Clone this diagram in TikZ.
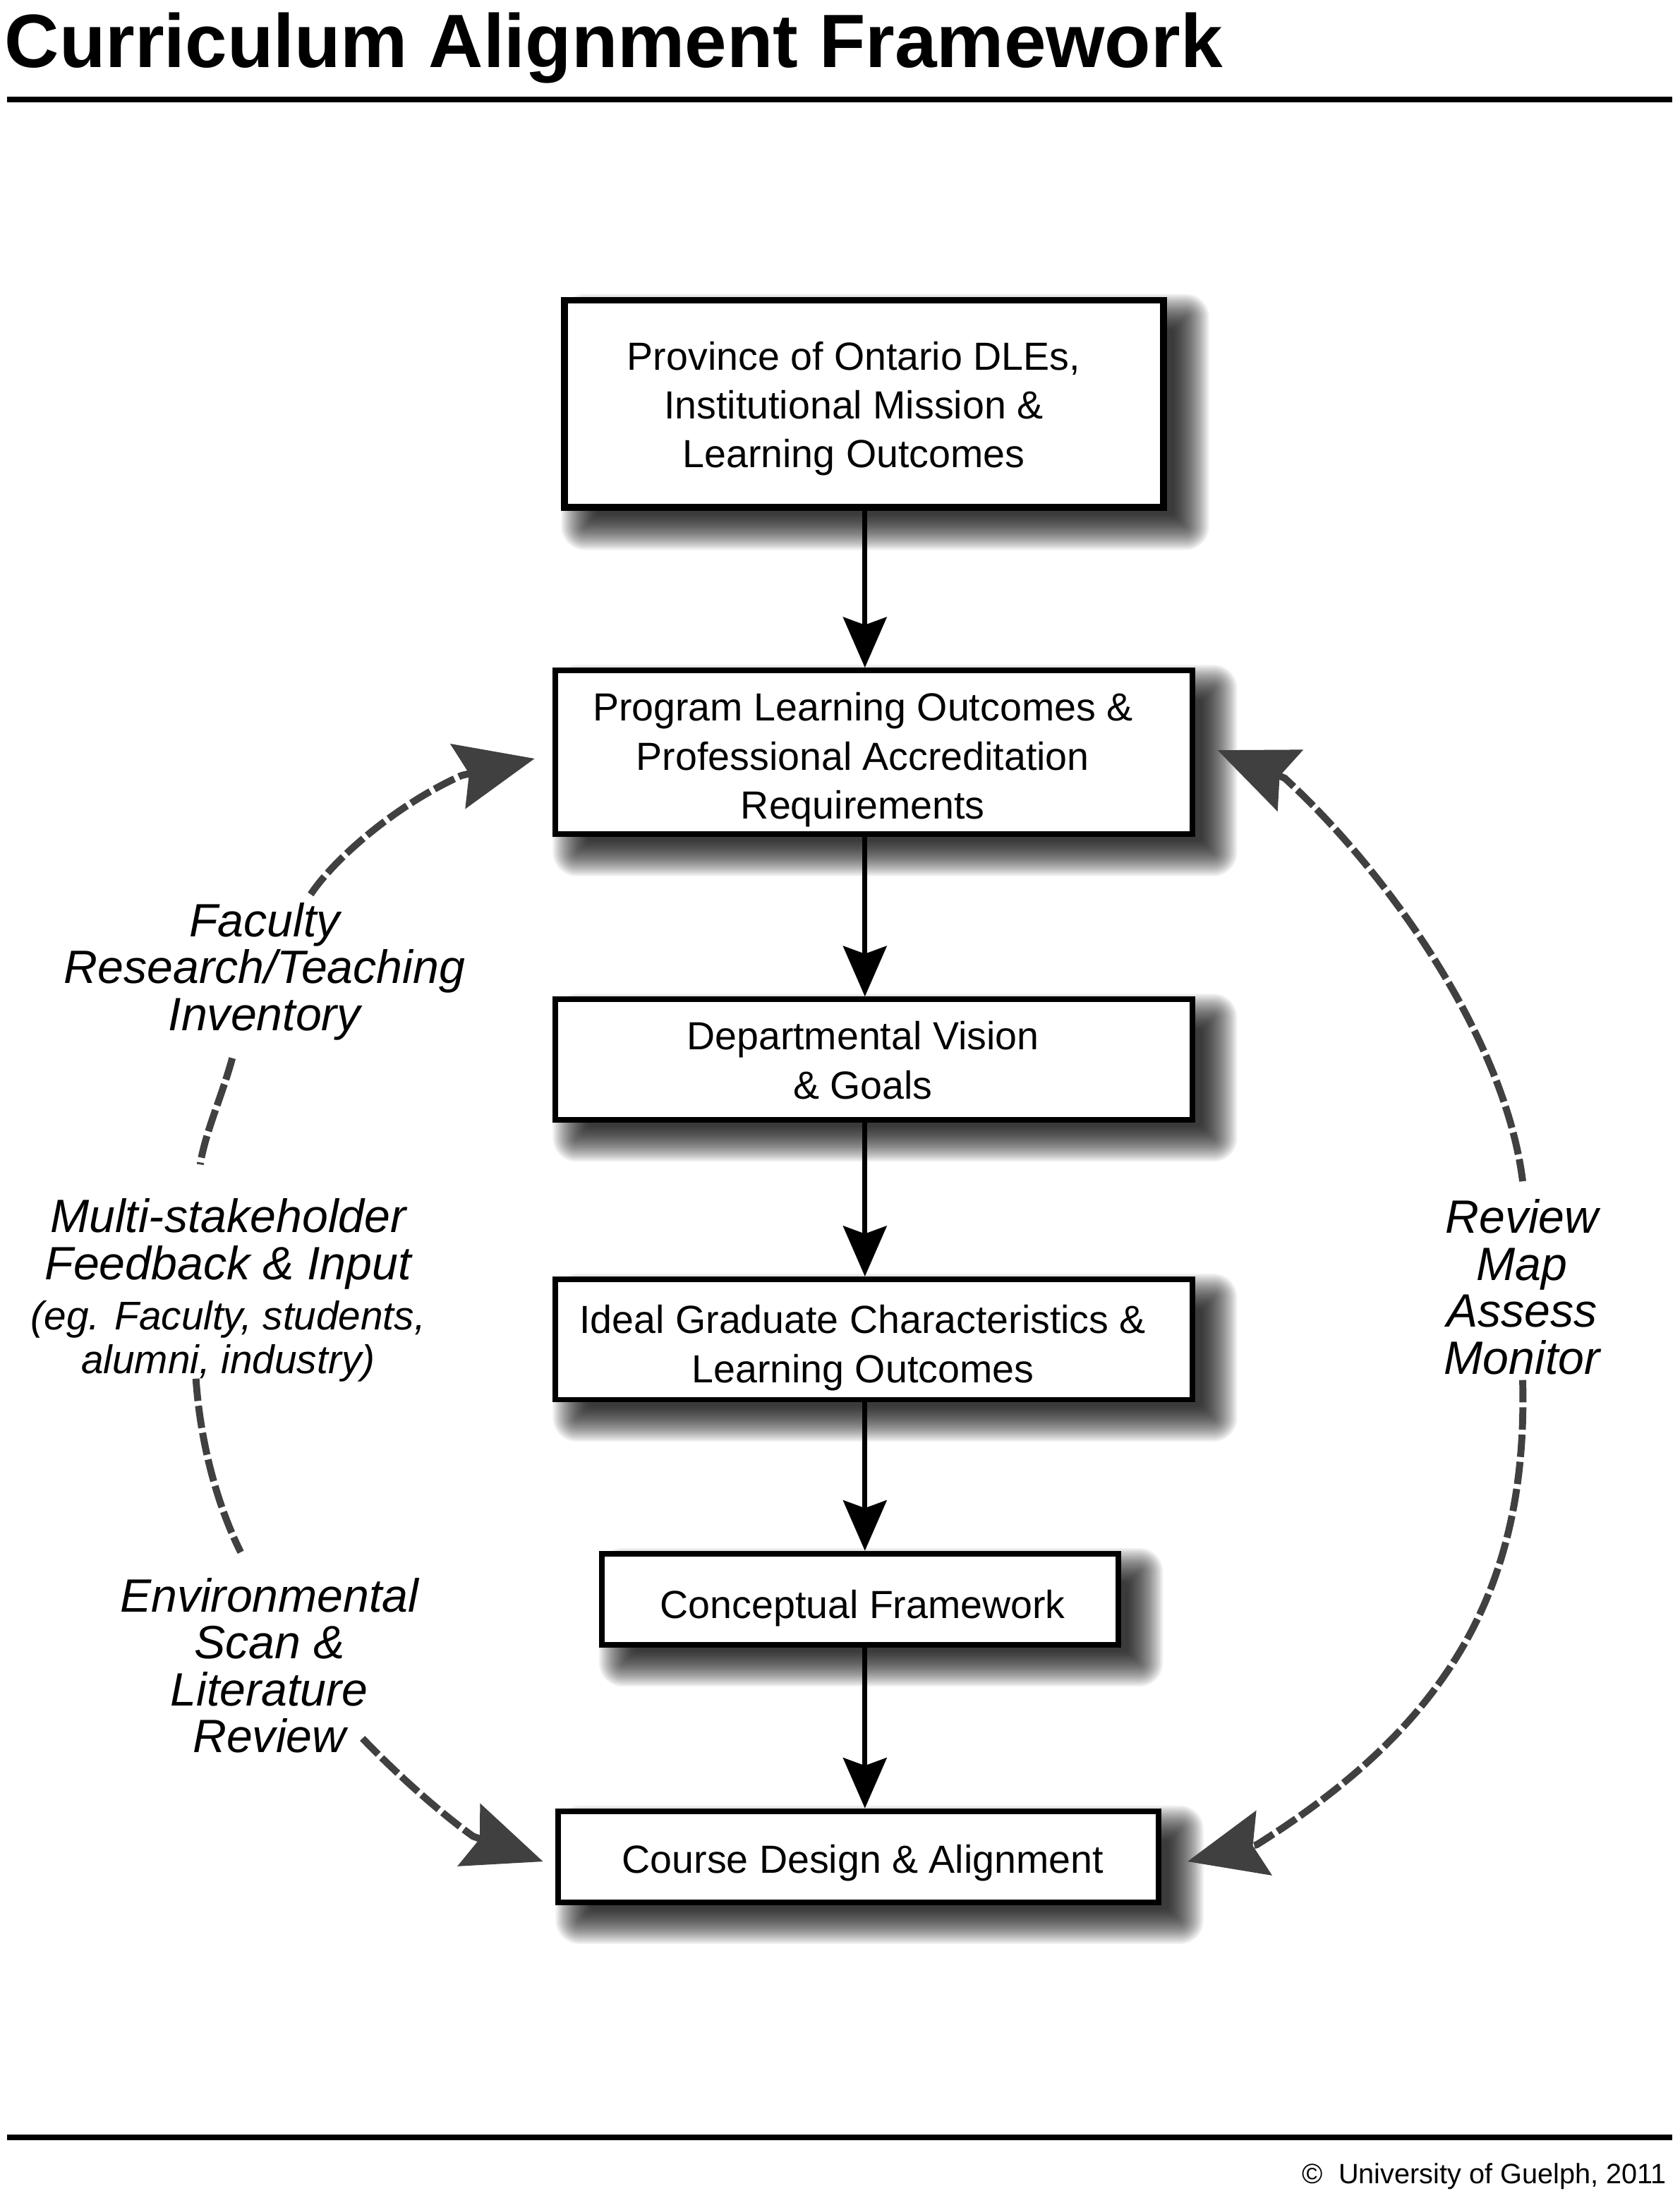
\documentclass[tikz,border=0pt]{standalone}
\usepackage{fontspec}
\setmainfont{Liberation Sans}
\usetikzlibrary{arrows.meta,calc,backgrounds}
\definecolor{dashgrey}{RGB}{64,64,64}
\newcommand\lblsmallfont{\fontsize{14.3}{16.75}\selectfont}
\begin{document}
\begin{tikzpicture}[x=0.5pt,y=-0.5pt,
  box/.style={draw=black, line width=2pt, fill=white, inner sep=0pt},
  boxtext/.style={align=center, font=\fontsize{14}{17.5}\selectfont, inner sep=0pt},
  flow/.style={line width=1.85pt, -{Stealth[length=18pt,width=15.5pt,inset=2.75pt]}},
  cyclearc/.style={draw=dashgrey, line width=2.5pt, dash pattern=on 8pt off 1.75pt,
    -{Stealth[length=28pt,width=23.5pt,inset=4pt,fill=dashgrey]}},
  link/.style={draw=dashgrey, line width=2.5pt, dash pattern=on 8pt off 1.75pt},
  lbl/.style={align=center, font=\itshape\fontsize{16.7}{16.75}\selectfont, inner sep=0pt},
  shadowstep/.style={fill=black, opacity=0.055},
]
\useasboundingbox (0,0) rectangle (1200,1574);

% title and rules
\node[anchor=base west, inner sep=0pt, font=\bfseries\fontsize{27}{33}\selectfont] (title) at (3,48) {Curriculum Alignment Framework};
\draw[line width=2pt] (5,71) -- (1195,71);
\draw[line width=2pt] (5,1527) -- (1195,1527);
\node[anchor=base east, inner sep=0pt, font=\fontsize{10}{12}\selectfont] (foot) at (1191,1560) {\textcopyright\ \ University of Guelph, 2011};

% boxes
\node[box, line width=2.5pt, minimum width=214pt, minimum height=74pt] (b1) at (617.5,288.5) {};
\node[boxtext] (t1) at (610,292) {Province of Ontario DLEs,\\ Institutional Mission \&\\ Learning Outcomes};

\node[box, minimum width=227.5pt, minimum height=58.5pt] (b2) at (624.5,537.5) {};
\node[boxtext] (t2) at (616.5,543) {Program Learning Outcomes \&\\ Professional Accreditation\\ Requirements};

\node[box, minimum width=227.5pt, minimum height=43pt] (b3) at (624.5,757) {};
\node[boxtext] (t3) at (616.5,757.5) {Departmental Vision\\ \& Goals};

\node[box, minimum width=227.5pt, minimum height=43pt] (b4) at (624.5,957) {};
\node[boxtext] (t4) at (616.5,963) {Ideal Graduate Characteristics \&\\ Learning Outcomes};

\node[box, minimum width=184.5pt, minimum height=32.5pt] (b5) at (614.5,1142.5) {};
\node[boxtext] (t5) at (616.5,1149) {Conceptual Framework};

\node[box, minimum width=214.5pt, minimum height=32.5pt] (b6) at (613.5,1326.5) {};
\node[boxtext] (t6) at (616.5,1331) {Course Design \& Alignment};

% soft drop shadows behind the boxes
\begin{pgfonlayer}{background}
  \fill[white] (0,0) rectangle (1200,1574);
  \foreach \n in {b1,b2,b3,b4,b5,b6}{
    \foreach \i in {0,...,23}{
      \pgfmathsetmacro\ee{-10+25*\i/23}
      \pgfmathsetmacro\rc{max(\ee,0)/2+1}
      \fill[shadowstep, rounded corners=\rc pt]
        ($(\n.south west)+(15-\ee,13+\ee)$) rectangle ($(\n.north east)+(15+\ee,13-\ee)$);
    }
  }
\end{pgfonlayer}

% vertical flow arrows
\coordinate (ax) at (618,0);
\draw[flow] (b1.south -| ax) -- (b2.north -| ax);
\draw[flow] (b2.south -| ax) -- (b3.north -| ax);
\draw[flow] (b3.south -| ax) -- (b4.north -| ax);
\draw[flow] (b4.south -| ax) -- (b5.north -| ax);
\draw[flow] (b5.south -| ax) -- (b6.north -| ax);

% side labels
\node[lbl] (l1) at (189,694) {Faculty\\ Research/Teaching\\ Inventory};
\node[lbl] (l2) at (163,922) {Multi-stakeholder\\ Feedback \& Input\\[1.1pt] {\lblsmallfont (eg. Faculty, students,}\\[-0.9pt] {\lblsmallfont alumni, industry)}};
\node[lbl] (l3) at (192.5,1190) {Environmental\\ Scan \&\\ Literature\\ Review};
\node[lbl] (r1) at (1087.5,919.5) {Review\\ Map\\ Assess\\ Monitor};

% dashed cycle connectors
\coordinate (a0) at (222,639);
\coordinate (a1) at (166,756);
\coordinate (a2) at (143,832);
\coordinate (a3) at (140,985);
\coordinate (a4) at (172,1109);
\coordinate (a5) at (259,1242);
\coordinate (r0) at (1088,844);
\coordinate (r2) at (1088,986);

\draw[cyclearc] (a0) .. controls (240,612) and (285,574) .. (330,554) -- ($(b2.west)+(-13,4.5)$);
\draw[link] (a1) .. controls (158,785) and (147,808) .. (a2);
\draw[link] (a3) .. controls (143,1030) and (155,1075) .. (a4);
\draw[cyclearc] (a5) .. controls (282,1266) and (313,1294) .. (338,1312) -- ($(b6.west)+(-9,3.5)$);
\draw[cyclearc] (r0) .. controls (1075,740) and (990,622) .. (918,556) -- ($(b2.east)+(16,-1.5)$);
\draw[cyclearc] (r2) .. controls (1092,1140) and (1030,1235) .. (898,1318) -- ($(b6.east)+(18.5,3.5)$);
\end{tikzpicture}
\end{document}
